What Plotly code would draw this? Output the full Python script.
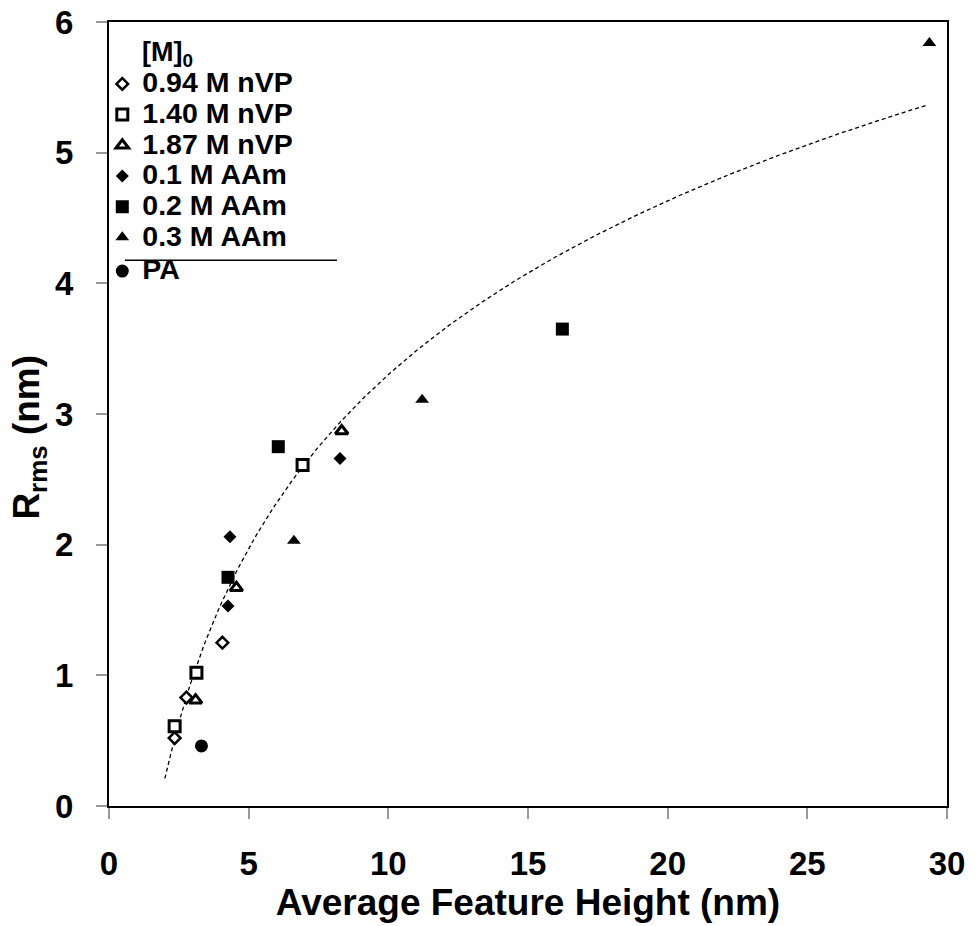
import numpy as np
import plotly.graph_objects as go

# ---- data ----
nvp094_x = [2.35, 2.77, 4.06]
nvp094_y = [0.52, 0.83, 1.25]
nvp140_x = [2.35, 3.13, 6.93]
nvp140_y = [0.61, 1.02, 2.61]
nvp187_x = [3.10, 4.56, 8.33]
nvp187_y = [0.81, 1.67, 2.87]
aam01_x = [4.33, 4.26, 8.27]
aam01_y = [2.06, 1.53, 2.66]
aam02_x = [6.06, 4.26, 16.23]
aam02_y = [2.75, 1.75, 3.65]
aam03_x = [6.62, 11.21, 29.37]
aam03_y = [2.03, 3.11, 5.84]
pa_x = [3.31]
pa_y = [0.46]

series_names = ["0.94 M nVP", "1.40 M nVP", "1.87 M nVP", "0.1 M AAm", "0.2 M AAm", "0.3 M AAm"]
pa_name = "PA"
legend_title = "[M]<sub>0</sub>"

# logarithmic trendline y = a*ln(x) + b (coefficients)
trend_a = 1.92
trend_b = -1.12
trend_xmin, trend_xmax = 2.0, 29.3

x_ticks = [0, 5, 10, 15, 20, 25, 30]
y_ticks = [0, 1, 2, 3, 4, 5, 6]

FONT = "Arial, 'Liberation Sans', sans-serif"
LEG_TXT = 28.5


def big(t):
    return f"<span style='font-size:{LEG_TXT}px'>{t}</span>"


fig = go.Figure()

tx = np.linspace(trend_xmin, trend_xmax, 300)
fig.add_trace(go.Scatter(x=tx, y=trend_a * np.log(tx) + trend_b, mode="lines",
                         line=dict(color="black", width=1.3, dash="4px,3px"),
                         showlegend=False, hoverinfo="skip"))

markers = [
    dict(symbol="diamond", size=9, color="white", line=dict(color="black", width=2.5)),
    dict(symbol="square", size=11, color="white", line=dict(color="black", width=3)),
    dict(symbol="triangle-up", size=11, color="white", line=dict(color="black", width=3)),
    dict(symbol="diamond", size=10, color="black", line=dict(width=0)),
    dict(symbol="square", size=13, color="black", line=dict(width=0)),
    dict(symbol="triangle-up", size=12, color="black", line=dict(width=0)),
]
xs_all = [nvp094_x, nvp140_x, nvp187_x, aam01_x, aam02_x, aam03_x]
ys_all = [nvp094_y, nvp140_y, nvp187_y, aam01_y, aam02_y, aam03_y]
for name, xs, ys, mk in zip(series_names, xs_all, ys_all, markers):
    fig.add_trace(go.Scatter(x=xs, y=ys, mode="markers", name=big(name), marker=mk,
                             legendgroup="g1"))
fig.add_trace(go.Scatter(x=pa_x, y=pa_y, mode="markers", name=big(pa_name),
                         marker=dict(symbol="circle", size=13, color="black"),
                         legendgroup="g2"))

axis_common = dict(
    showgrid=False, zeroline=False, showline=True, linecolor="black", linewidth=2,
    mirror=True, ticks="outside", ticklen=11, tickwidth=1.5, tickcolor="#999999",
    automargin=False,
    tickfont=dict(family=FONT, size=33, color="black", weight="bold"),
)

fig.update_layout(
    width=975, height=926,
    margin=dict(l=109, r=28, t=22, b=120),
    paper_bgcolor="white", plot_bgcolor="white",
    showlegend=True,
    legend=dict(x=-0.008, xanchor="left", y=0.947, yanchor="top",
                bgcolor="rgba(0,0,0,0)", borderwidth=0,
                font=dict(family=FONT, size=21.3, color="black", weight="bold"),
                tracegroupgap=3, traceorder="grouped", itemwidth=30),
    xaxis=dict(range=[0, 30], tickvals=x_ticks, ticklabelstandoff=16,
               title=dict(text="Average Feature Height (nm)", standoff=8,
                          font=dict(family=FONT, size=37, color="black", weight="bold")),
               **axis_common),
    yaxis=dict(range=[0, 6], tickvals=y_ticks, ticklabelstandoff=16, **axis_common),
    annotations=[
        dict(text=legend_title, xref="paper", yref="paper",
             x=0.037, y=0.959, xanchor="left", yanchor="middle", showarrow=False,
             font=dict(family=FONT, size=27, color="black", weight="bold")),
        dict(text="R<sub>rms</sub> (nm)", xref="paper", yref="paper",
             x=-0.0956, y=0.471, xanchor="center", yanchor="middle", textangle=-90,
             showarrow=False,
             font=dict(family=FONT, size=37, color="black", weight="bold")),
    ],
    shapes=[dict(type="line", xref="paper", yref="paper", x0=0.019, x1=0.272,
                 y0=0.696, y1=0.696, line=dict(color="black", width=1.5))],
)

fig.write_html("out.html")
